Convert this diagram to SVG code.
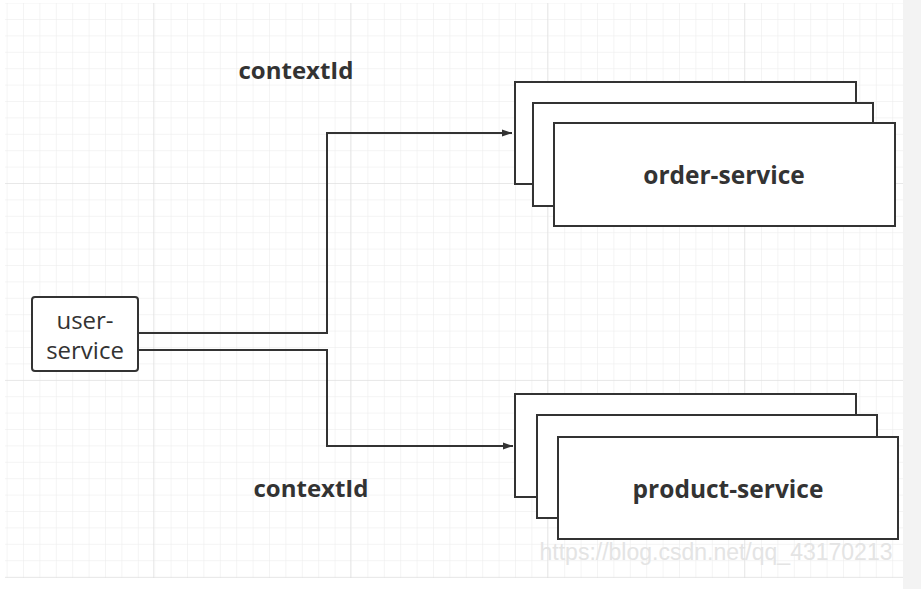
<svg xmlns="http://www.w3.org/2000/svg" width="921" height="589" viewBox="0 0 921 589">
<defs>
<pattern id="minor" x="6.6" y="2.6" width="16.4" height="16.4" patternUnits="userSpaceOnUse">
<path d="M0 0V16.4M0 0H16.4" fill="none" stroke="#eaeaea" stroke-width="1"/>
</pattern>
<pattern id="major" x="153" y="183" width="197" height="197" patternUnits="userSpaceOnUse">
<path d="M0 0V197M0 0H197" fill="none" stroke="#dcdcdc" stroke-width="1"/>
</pattern>
<marker id="arr" viewBox="0 0 10 10" refX="10" refY="5" markerWidth="10" markerHeight="10" markerUnits="userSpaceOnUse" orient="auto">
<path d="M0 1.5L10 5L0 8.5Z" fill="#333"/>
</marker>
<style>
.box{fill:#fff;stroke:#333;stroke-width:2}
.conn{fill:none;stroke:#333;stroke-width:2}
.bold{font-family:"Open Sans","Noto Sans","Liberation Sans",sans-serif;font-weight:bold;fill:#333;text-anchor:middle}
.reg{font-family:"Open Sans","Noto Sans","Liberation Sans",sans-serif;fill:#333;text-anchor:middle;font-size:24px}
</style>
</defs>
<rect width="921" height="589" fill="#fff"/>
<g id="grid">
<rect x="5" y="3" width="898" height="575" fill="url(#minor)"/>
<rect x="5" y="3" width="898" height="575" fill="url(#major)"/>
<rect x="903" y="0" width="18" height="589" fill="#f3f3f3"/>
</g>
<g id="connectors">
<path class="conn" d="M138 333H327V133H512" marker-end="url(#arr)"/>
<path class="conn" d="M138 350H327V446H513" marker-end="url(#arr)"/>
</g>
<g id="user-service">
<rect class="box" x="32" y="297" width="106" height="74" rx="3"/>
<text class="reg" x="85" y="329">user-</text>
<text class="reg" x="85" y="359">service</text>
</g>
<g id="order-service">
<rect class="box" x="515" y="82" width="341" height="102"/>
<rect class="box" x="533" y="103" width="340" height="103"/>
<rect class="box" x="554" y="123" width="341" height="103"/>
<text class="bold" x="724" y="184" font-size="24.5">order-service</text>
</g>
<g id="product-service">
<rect class="box" x="515" y="394" width="341" height="103"/>
<rect class="box" x="537" y="415" width="340" height="103"/>
<rect class="box" x="558" y="437" width="340" height="102"/>
<text class="bold" x="728" y="498" font-size="24.5">product-service</text>
</g>
<g id="labels">
<text class="bold" x="296" y="79" font-size="24">contextId</text>
<text class="bold" x="311" y="497" font-size="24">contextId</text>
</g>
<text x="716" y="560" text-anchor="middle" font-family="Liberation Sans, Arial, sans-serif" font-size="23" fill="#e4e4e4">https://blog.csdn.net/qq_43170213</text>
</svg>
